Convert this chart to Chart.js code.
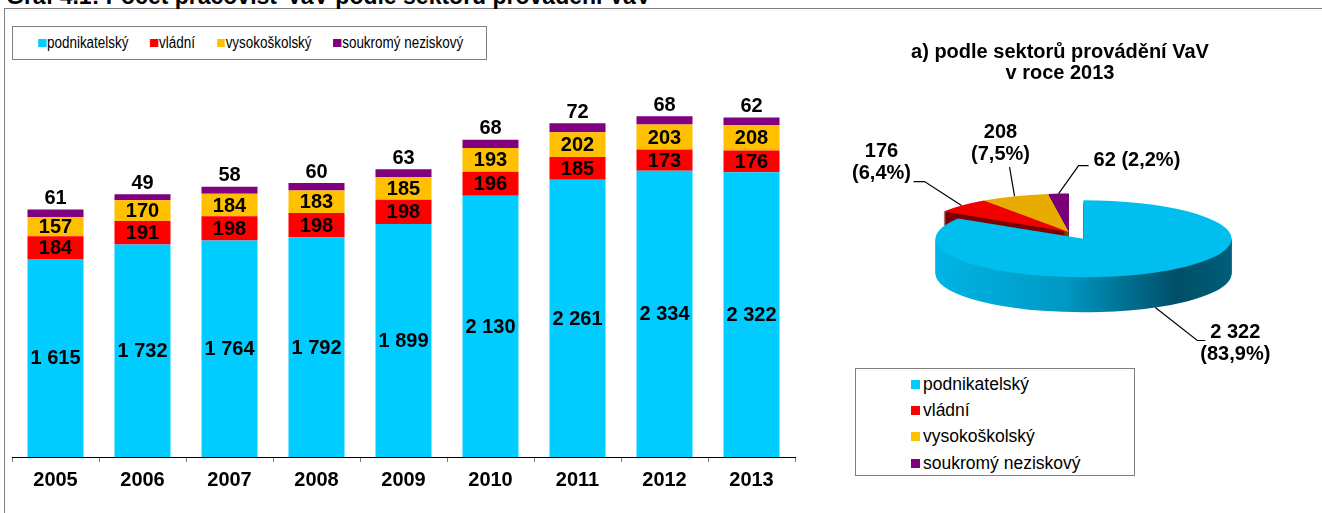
<!DOCTYPE html>
<html lang="cs">
<head>
<meta charset="utf-8">
<script src="https://cdn.jsdelivr.net/npm/chart.js@4.4.1/dist/chart.umd.min.js"></script>
<style>
  html, body { margin: 0; padding: 0; background: #fff; }
  body { width: 1322px; height: 513px; position: relative; overflow: hidden; font-family: "Liberation Sans", Arial, sans-serif; color: #000; }
  #frame { position: absolute; left: 4px; top: 8px; width: 1318px; height: 510px; border-left: 1px solid #808080; border-top: 1px solid #808080; box-sizing: border-box; }
  #graf-title { position: absolute; left: 6px; top: -15px; font-weight: bold; font-size: 23px; line-height: 22px; white-space: nowrap; }
  #bar-wrap { position: absolute; left: 0; top: 0; width: 800px; height: 513px; }
  #pie-wrap { position: absolute; left: 829px; top: 22px; width: 480px; height: 420px; }
  #pie-title { position: absolute; left: 910px; width: 300px; top: 41px; text-align: center; font-weight: bold; font-size: 20px; line-height: 21px; white-space: nowrap; }
  .legend { position: absolute; border: 1px solid #808080; background: #fff; box-sizing: border-box; }
  #bar-legend { left: 12px; top: 26px; width: 475px; height: 34px; font-size: 16px; white-space: nowrap; }
  #bar-legend .inner { display: flex; align-items: center; height: 100%; padding-left: 30px; transform: scaleX(0.84); transform-origin: 0 50%; }
  #bar-legend .item { display: flex; align-items: center; margin-right: 26px; }
  #bar-legend .box { width: 9.5px; height: 8px; margin-right: 1px; }
  #pie-legend { left: 855px; top: 368px; width: 280px; height: 108px; padding: 2px 0 0 55px; font-size: 17.5px; }
  #pie-legend .item { display: flex; align-items: center; height: 26.3px; }
  #pie-legend .box { width: 9px; height: 9px; margin-right: 3px; }
</style>
</head>
<body>
<div id="frame"></div>
<div id="graf-title">Graf 4.1: Počet pracovišť VaV podle sektorů provádění VaV</div>
<div id="bar-wrap"><canvas id="barChart"></canvas></div>
<div id="bar-legend" class="legend"><div class="inner"></div></div>
<div id="pie-wrap"><canvas id="pieChart"></canvas></div>
<div id="pie-title">a) podle sektorů provádění VaV<br>v roce 2013</div>
<div id="pie-legend" class="legend"></div>
<script>
// data
const years = ['2005', '2006', '2007', '2008', '2009', '2010', '2011', '2012', '2013'];
const sectors = ['podnikatelský', 'vládní', 'vysokoškolský', 'soukromý neziskový'];
const podnikatelsky = [1615, 1732, 1764, 1792, 1899, 2130, 2261, 2334, 2322];
const vladni = [184, 191, 198, 198, 198, 196, 185, 173, 176];
const vysokoskolsky = [157, 170, 184, 183, 185, 193, 202, 203, 208];
const soukromy = [61, 49, 58, 60, 63, 68, 72, 68, 62];
const series = [podnikatelsky, vladni, vysokoskolsky, soukromy];

const barColors = ['#00CCFF', '#FF0000', '#FFC000', '#800080'];
const pieTopColors = ['#00BFEF', '#F20000', '#E8AC00', '#7A007A'];
const pieSideColors = [null, '#7A0000', '#8A6800', '#420042'];

const FONT = '"Liberation Sans", Arial, sans-serif';
const fmt = v => String(v).replace(/\B(?=(\d{3})+(?!\d))/g, ' ');

// legends
function buildLegend(el) {
  sectors.forEach((name, i) => {
    const item = document.createElement('div');
    item.className = 'item';
    item.innerHTML = '<span class="box" style="background:' + barColors[i] + '"></span><span>' + name + '</span>';
    el.appendChild(item);
  });
}
buildLegend(document.querySelector('#bar-legend .inner'));
buildLegend(document.getElementById('pie-legend'));

// values on bars
const barLabels = {
  id: 'barLabels',
  afterDatasetsDraw(chart) {
    const ctx = chart.ctx;
    ctx.save();
    ctx.font = 'bold 20px ' + FONT;
    ctx.fillStyle = '#000';
    ctx.textAlign = 'center';
    ctx.textBaseline = 'middle';
    chart.data.datasets.forEach((ds, i) => {
      chart.getDatasetMeta(i).data.forEach((bar, j) => {
        const y = i < 3 ? (bar.y + bar.base) / 2 + 1 : bar.y - 11;
        ctx.fillText(fmt(ds.data[j]), bar.x, y);
      });
    });
    ctx.restore();
  }
};

new Chart(document.getElementById('barChart'), {
  type: 'bar',
  data: {
    labels: years,
    datasets: series.map((d, i) => ({
      label: sectors[i],
      data: d,
      backgroundColor: barColors[i],
      borderWidth: 0,
      barPercentage: 0.644,
      categoryPercentage: 1
    }))
  },
  options: {
    responsive: true,
    maintainAspectRatio: false,
    animation: false,
    events: [],
    layout: { padding: { left: 12, right: 5, top: 89, bottom: 0 } },
    plugins: { legend: { display: false }, tooltip: { enabled: false } },
    scales: {
      x: {
        stacked: true,
        grid: { drawOnChartArea: false, drawTicks: true, tickLength: 5, tickColor: '#808080', offset: true },
        border: { display: true, color: '#000', width: 1 },
        ticks: { color: '#000', font: { family: FONT, size: 20, weight: 'bold' }, padding: 6, maxRotation: 0 },
        afterFit(scale) { scale.height = 56; }
      },
      y: { stacked: true, display: false, min: 0, max: 3000 }
    }
  },
  plugins: [barLabels]
});

// pie for the last year
const pieValues = series.map(s => s[s.length - 1]);
const pieTotal = pieValues.reduce((a, b) => a + b, 0);
const pct = v => (v / pieTotal * 100).toFixed(1).replace('.', ',') + '%';

const tilt = 0.26;
const depth = 35;
const explode = [30, 0, 0, 0];
// label placement relative to the slice anchor: elbow, end of leader, text
const pieLabelLayout = [
  { side: true, elbow: [42, 33], end: [50, 33], text: [80, 25], align: 'center', lines: 2 },
  { elbow: [-37, -24], end: [-48, -24], text: [-80, -54], align: 'center', lines: 2 },
  { elbow: [-5, -29], end: [-5, -29], text: [-14, -64], align: 'center', lines: 2 },
  { elbow: [20, -28], end: [30, -28], text: [35, -33], align: 'left', lines: 1 }
];

function pieCenter(chart) {
  const a = chart.chartArea;
  return [(a.left + a.right) / 2, (a.top + a.bottom) / 2];
}

// screen point of a slice edge, taking the tilt into account
function anchorOf(chart, arc, i) {
  const [cx, cy] = pieCenter(chart);
  const mid = (arc.startAngle + arc.endAngle) / 2;
  const r = arc.outerRadius;
  const x = arc.x + Math.cos(mid) * r;
  let y = cy + tilt * (arc.y - cy + Math.sin(mid) * r);
  if (pieLabelLayout[i].side) y += depth;
  return [x, y];
}

const pie3d = {
  id: 'pie3d',
  afterUpdate(chart) {
    // pull slices out of the pie
    chart.getDatasetMeta(0).data.forEach((arc, i) => {
      const mid = (arc.startAngle + arc.endAngle) / 2;
      arc.x += Math.cos(mid) * explode[i];
      arc.y += Math.sin(mid) * explode[i];
    });
  },
  beforeDatasetsDraw(chart) {
    const ctx = chart.ctx;
    const arcs = chart.getDatasetMeta(0).data;
    const [cx, cy] = pieCenter(chart);
    const r = arcs[0].outerRadius;
    ctx.save();
    ctx.translate(cx, cy);
    ctx.scale(1, tilt);
    ctx.translate(-cx, -cy);
    const grad = ctx.createLinearGradient(cx - r, 0, cx + r + 25, 0);
    grad.addColorStop(0, '#00B8E8');
    grad.addColorStop(0.45, '#0098C4');
    grad.addColorStop(0.8, '#004E66');
    grad.addColorStop(1, '#00627E');
    for (let d = depth; d > 0; d--) {
      ctx.save();
      ctx.translate(0, d / tilt);
      arcs.forEach((arc, i) => {
        const side = i === 0 ? grad : pieSideColors[i];
        const ghost = Object.create(arc);
        ghost.options = Object.assign({}, arc.options, { backgroundColor: side, borderColor: side, borderWidth: 0 });
        arc.draw.call(ghost, ctx);
      });
      ctx.restore();
    }
  },
  afterDatasetsDraw(chart) {
    const ctx = chart.ctx;
    ctx.restore();
    const arcs = chart.getDatasetMeta(0).data;
    ctx.save();
    ctx.strokeStyle = '#000';
    ctx.lineWidth = 1.2;
    ctx.fillStyle = '#000';
    ctx.font = 'bold 20px ' + FONT;
    ctx.textBaseline = 'middle';
    arcs.forEach((arc, i) => {
      const L = pieLabelLayout[i];
      const [ax, ay] = anchorOf(chart, arc, i);
      ctx.beginPath();
      ctx.moveTo(ax, ay);
      ctx.lineTo(ax + L.elbow[0], ay + L.elbow[1]);
      ctx.lineTo(ax + L.end[0], ay + L.end[1]);
      ctx.stroke();
      ctx.textAlign = L.align;
      const tx = ax + L.text[0], ty = ay + L.text[1];
      const v = pieValues[i];
      if (L.lines === 2) {
        ctx.fillText(fmt(v), tx, ty);
        ctx.fillText('(' + pct(v) + ')', tx, ty + 22);
      } else {
        ctx.fillText(fmt(v) + ' (' + pct(v) + ')', tx, ty);
      }
    });
    ctx.restore();
  }
};

new Chart(document.getElementById('pieChart'), {
  type: 'pie',
  data: {
    labels: sectors,
    datasets: [{
      data: pieValues,
      backgroundColor: pieTopColors,
      borderWidth: 0,
      radius: 148,
      clip: false
    }]
  },
  options: {
    responsive: true,
    maintainAspectRatio: false,
    animation: false,
    events: [],
    layout: { padding: 0 },
    plugins: { legend: { display: false }, tooltip: { enabled: false } }
  },
  plugins: [pie3d]
});
</script>
</body>
</html>
